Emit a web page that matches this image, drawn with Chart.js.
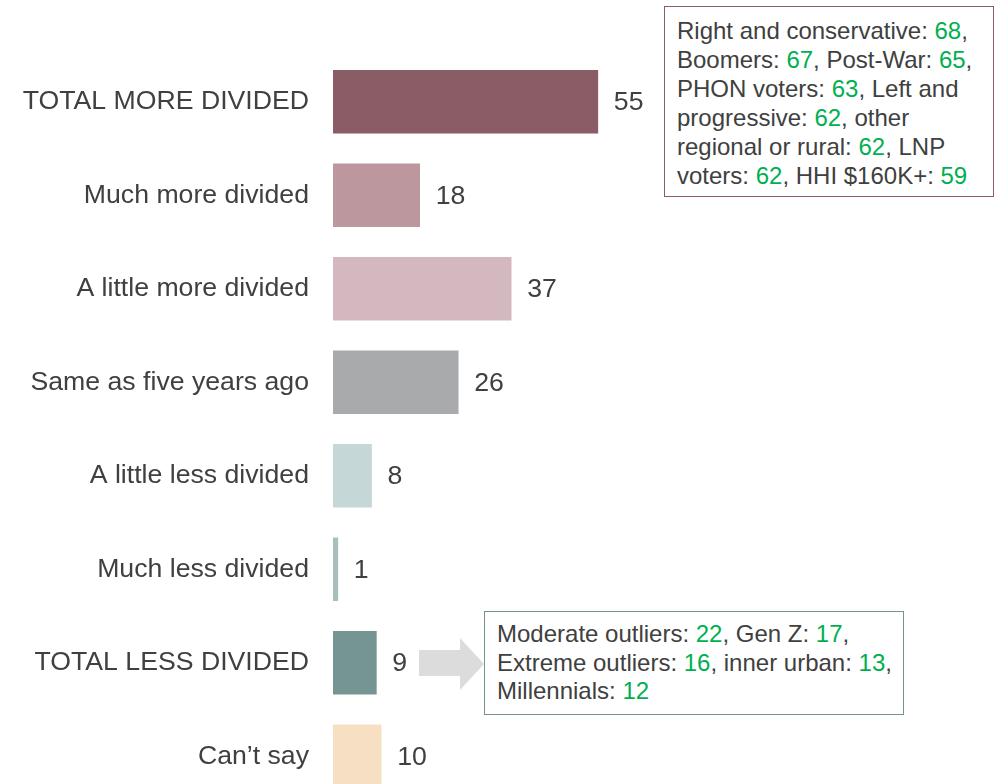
<!DOCTYPE html>
<html>
<head>
<meta charset="utf-8">
<script src="https://cdn.jsdelivr.net/npm/chart.js@4.4.1/dist/chart.umd.min.js"></script>
<style>
  html, body { margin:0; padding:0; background:#fff; overflow:hidden; width:1001px; height:784px; }
  #wrap { position:relative; width:1001px; height:784px; overflow:hidden; }
  #chartBox { position:absolute; left:0; top:0; width:1001px; height:843px; }
  .note { position:absolute; box-sizing:border-box; background:#fff; font-family:"Liberation Sans", Arial, sans-serif; font-size:24px; line-height:29px; color:#404040; white-space:nowrap; }
  .note .g { color:#00B050; }
  #noteTop { left:664px; top:6px; width:330px; height:191px; border:1.3px solid #8B5C66; padding:9px 0 0 12px; }
  #noteBottom { left:484px; top:611px; width:420px; height:104px; border:1.3px solid #739592; padding:8px 0 0 12px; line-height:28.5px; }
  #arrow { position:absolute; left:0; top:0; }
</style>
</head>
<body>
<div id="wrap">
  <div id="chartBox"><canvas id="c" width="1001" height="843" style="width:1001px;height:843px"></canvas></div>
  <svg id="arrow" width="1001" height="784"><polygon points="419,650 460,650 460,638 484,664 460,690 460,676 419,676" fill="#DCDCDC"/></svg>
  <div class="note" id="noteTop">Right and conservative: <span class="g">68</span>,<br>Boomers: <span class="g">67</span>, Post-War: <span class="g">65</span>,<br>PHON voters: <span class="g">63</span>, Left and<br>progressive: <span class="g">62</span>, other<br>regional or rural: <span class="g">62</span>, LNP<br>voters: <span class="g">62</span>, HHI $160K+: <span class="g">59</span></div>
  <div class="note" id="noteBottom">Moderate outliers: <span class="g">22</span>, Gen Z: <span class="g">17</span>,<br>Extreme outliers: <span class="g">16</span>, inner urban: <span class="g">13</span>,<br>Millennials: <span class="g">12</span></div>
</div>
<script>
const categories = [
  "TOTAL MORE DIVIDED",
  "Much more divided",
  "A little more divided",
  "Same as five years ago",
  "A little less divided",
  "Much less divided",
  "TOTAL LESS DIVIDED",
  "Can\u2019t say"
];
const values = [55, 18, 37, 26, 8, 1, 9, 10];
const barColors = ["#8A5C66", "#BC979E", "#D3B9BF", "#A9AAAC", "#C5D7D6", "#A9BFBD", "#749592", "#F6DFC3"];

const FONT = '"Liberation Sans", Arial, sans-serif';
const TEXT = "#404040";

const valueLabels = {
  id: "valueLabels",
  afterDatasetsDraw(chart) {
    const ctx = chart.ctx;
    const meta = chart.getDatasetMeta(0);
    ctx.save();
    ctx.font = "26.67px " + FONT;
    ctx.fillStyle = TEXT;
    ctx.textAlign = "left";
    ctx.textBaseline = "middle";
    meta.data.forEach((bar, i) => {
      ctx.fillText(String(values[i]), bar.x + 16, bar.y + 1);
    });
    ctx.restore();
  }
};

new Chart(document.getElementById("c"), {
  type: "bar",
  data: {
    labels: categories,
    datasets: [{
      data: values,
      backgroundColor: barColors,
      borderWidth: 0,
      barThickness: 63
    }]
  },
  options: {
    indexAxis: "y",
    responsive: false,
    maintainAspectRatio: false,
    animation: false,
    devicePixelRatio: 1,
    layout: { padding: { top: 55, bottom: 7, left: 0, right: 186.5 } },
    plugins: { legend: { display: false }, tooltip: { enabled: false } },
    scales: {
      x: { display: false, min: 0, max: 100 },
      y: {
        grid: { display: false, drawTicks: false },
        border: { display: false },
        ticks: { color: TEXT, font: { family: FONT, size: 26.67 }, padding: 24 },
        afterFit(scale) { scale.width = 333; }
      }
    }
  },
  plugins: [valueLabels]
});
</script>
</body>
</html>
